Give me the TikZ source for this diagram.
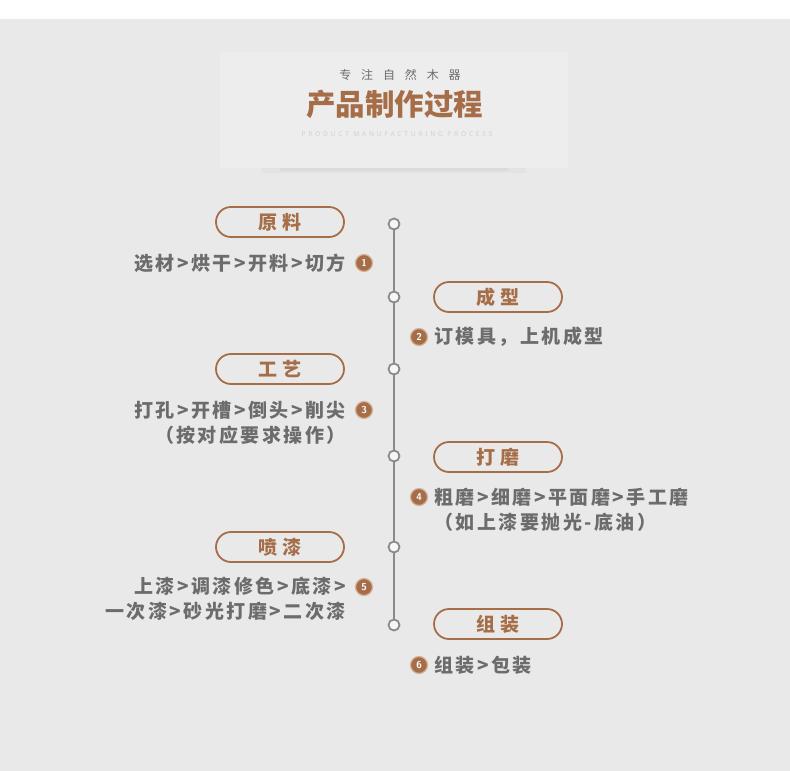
\documentclass[tikz,border=0pt]{standalone}
\usepackage{fontspec}
\newfontfamily\cjkbody[LetterSpace=13]{Noto Sans CJK SC}
\newfontfamily\cjkpill[LetterSpace=30]{Noto Sans CJK SC}
\newfontfamily\cjktitle{Noto Sans CJK SC}
\newfontfamily\cjkslogan[LetterSpace=82]{Noto Sans CJK SC}
\newfontfamily\latinwide[LetterSpace=42]{Noto Sans}
\definecolor{bgc}{RGB}{233,233,233}
\definecolor{boxc}{RGB}{237,237,237}
\definecolor{brownc}{RGB}{166,110,72}
\definecolor{ringc}{RGB}{214,180,156}
\definecolor{linec}{RGB}{138,138,138}
\definecolor{textc}{RGB}{108,108,108}
\begin{document}
\begin{tikzpicture}[x=1pt,y=-1pt,
		stage/.style={draw=brownc, line width=1.8pt, rounded corners=15pt, minimum width=128pt, minimum height=30pt, inner sep=0pt, text=brownc, font=\cjkpill\bfseries\fontsize{19}{19}\selectfont},
		dot/.style={circle, draw=linec, fill=white!60!bgc, line width=1.8pt, minimum size=11pt, inner sep=0pt},
		badge/.style={circle, fill=brownc, draw=ringc, line width=1.2pt, text=white, minimum size=17pt, inner sep=0pt, font=\sffamily\bfseries\fontsize{10}{10}\selectfont},
		desc/.style={text=textc, inner sep=0pt, font=\cjkbody\bfseries\fontsize{19}{25}\selectfont},
	]
	\useasboundingbox (0,0) rectangle (790,771);
	\fill[white] (0,0) rectangle (790,19);
	\fill[bgc] (0,19) rectangle (790,771);

	% header
	\fill[black, opacity=0.025] (262,166) rectangle (526,173);
	\fill[black, opacity=0.03] (280,166) rectangle (508,171);
	\fill[boxc] (220,52) rectangle (568,168);
	\node[text=textc, font=\cjkslogan\fontsize{12}{12}\selectfont] (slogan) at (400,75) {专注自然木器};
	\node[text=brownc, font=\cjktitle\bfseries\fontsize{29.5}{29.5}\selectfont] (title) at (394.5,104) {产品制作过程};
	\node[text=black!19, font=\latinwide\fontsize{6.6}{6.6}\selectfont] (subtitle) at (397,134) {PRODUCT MANUFACTURING PROCESS};

	% timeline
	\foreach \i/\y in {1/224,2/297,3/369,4/456,5/547,6/625}
		{ \node[dot] (d\i) at (394,\y) {};}
	\foreach \a/\b in {1/2,2/3,3/4,4/5,5/6}
		{ \draw[linec, line width=2.8pt] (d\a) -- (d\b);}

	% stages
	\node[stage] (s1) at (280,222) {原料};
	\node[stage] (s2) at (498,297) {成型};
	\node[stage] (s3) at (280,369) {工艺};
	\node[stage] (s4) at (498,457) {打磨};
	\node[stage] (s5) at (280,547) {喷漆};
	\node[stage] (s6) at (498,624) {组装};

	% numbers
	\node[badge] (n1) at (364,263) {1};
	\node[badge] (n2) at (419,337) {2};
	\node[badge] (n3) at (364,410) {3};
	\node[badge] (n4) at (419,497) {4};
	\node[badge] (n5) at (364,587) {5};
	\node[badge] (n6) at (419,665) {6};

	% descriptions
	\node[desc, anchor=east] (t1) at (346,263) {选材>烘干>开料>切方};
	\node[desc, anchor=west] (t2) at (434,337) {订模具，上机成型};
	\node[desc, anchor=east, align=right] (t3) at (346,422.5) {打孔>开槽>倒头>削尖\\（按对应要求操作）};
	\node[desc, anchor=west, align=left] (t4) at (434,509.5) {粗磨>细磨>平面磨>手工磨\\（如上漆要抛光-底油）};
	\node[desc, anchor=east, align=right] (t5) at (346,599) {上漆>调漆修色>底漆>\\一次漆>砂光打磨>二次漆};
	\node[desc, anchor=west] (t6) at (434,665) {组装>包装};
\end{tikzpicture}
\end{document}
